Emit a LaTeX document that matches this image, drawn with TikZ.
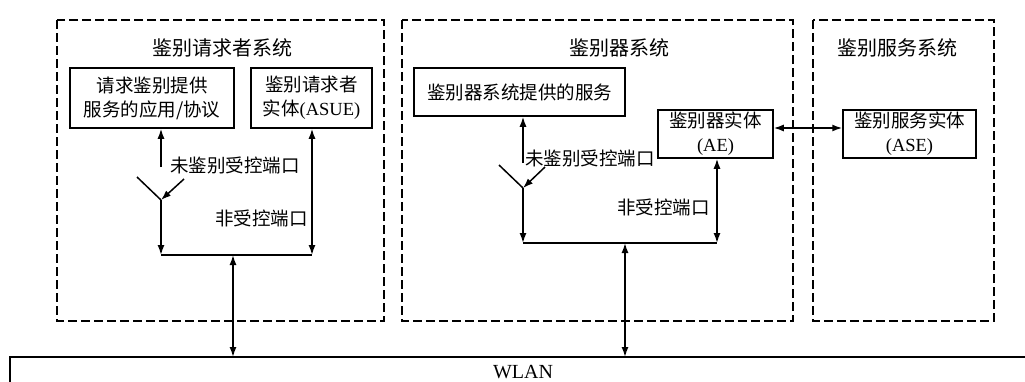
\documentclass[tikz,border=0pt]{standalone}
\usepackage{fontspec}
\setmainfont{Liberation Serif}
\newfontfamily\cjk{Noto Sans CJK SC}
\usetikzlibrary{arrows.meta}

\tikzset{
    sysbox/.style={draw, line width=2.8pt, dash pattern=on 9pt off 4pt},
    entity/.style={draw, line width=1.5pt, inner sep=0pt, align=center,
        font=\fontsize{18.5}{24}\selectfont\cjk},
    systitle/.style={font=\fontsize{20}{24}\selectfont\cjk},
    portlabel/.style={inner sep=0pt, font=\fontsize{18.5}{24}\selectfont\cjk},
    link/.style={line width=1.5pt, -{Latex[length=10pt,width=7pt]}},
    dlink/.style={line width=1.5pt, {Latex[length=10pt,width=7pt]}-{Latex[length=10pt,width=7pt]}},
}

\begin{document}
\begin{tikzpicture}[x=1pt, y=-1pt]
    \useasboundingbox (0,0) rectangle (1025,381);

    % the three systems
    \draw[sysbox] (57,20) rectangle (384,321);
    \draw[sysbox] (402,20) rectangle (793,321);
    \draw[sysbox] (813,20) rectangle (994,321);

    \node[systitle] (supp) at (222,48) {鉴别请求者系统};
    \node[systitle] (auth) at (619,48) {鉴别器系统};
    \node[systitle] (serv) at (897,48) {鉴别服务系统};

    % WLAN (runs off the page on the right and bottom)
    \draw[line width=1.7pt] (10,400) -- (10,357) -- (1040,357);
    \node[font=\fontsize{20}{24}\selectfont] (wlan) at (523,372) {WLAN};
    \coordinate (wlantop) at (523,357);

    % --- supplicant side ---
    \node[entity, minimum width=164pt, minimum height=60pt] (app) at (152,98)
        {请求鉴别提供\\服务的应用/协议};
    \node[entity, minimum width=121pt, minimum height=60pt] (asue) at (311.5,98)
        {鉴别请求者\\实体{\rmfamily(ASUE)}};

    \coordinate (s1up) at (161,167);
    \coordinate (s1open) at (137,177);
    \coordinate (s1pivot) at (161,200);
    \coordinate (s1lab) at (184,179);
    \coordinate (bus1l) at (161,255);
    \coordinate (bus1r) at (312,255);
    \coordinate (bus1m) at (233,255);

    \node[portlabel, anchor=west] (ctl1) at (170,165) {未鉴别受控端口};
    \node[portlabel, anchor=east] (unc1) at (308,218) {非受控端口};

    \draw[link] (s1up) -- (s1up |- app.south);
    \draw[line width=1.5pt] (s1open) -- (s1pivot);
    \draw[link] (s1lab) -- (s1pivot);
    \draw[link] (s1pivot) -- (bus1l);
    \draw[line width=1.5pt] (bus1l) -- (bus1r);
    \draw[dlink] (bus1r |- asue.south) -- (bus1r);
    \draw[dlink] (bus1m) -- (bus1m |- wlantop);

    % --- authenticator side ---
    \node[entity, minimum width=211pt, minimum height=48pt] (svc) at (519.5,92)
        {鉴别器系统提供的服务};
    \node[entity, minimum width=115pt, minimum height=48pt] (ae) at (715.5,134)
        {鉴别器实体\\{\rmfamily(AE)}};

    \coordinate (s2up) at (523,163);
    \coordinate (s2open) at (499,165);
    \coordinate (s2pivot) at (523,188);
    \coordinate (s2lab) at (545,167);
    \coordinate (bus2l) at (523,243);
    \coordinate (bus2r) at (717,243);
    \coordinate (bus2m) at (625,243);

    \node[portlabel, anchor=west] (ctl2) at (525,158) {未鉴别受控端口};
    \node[portlabel, anchor=east] (unc2) at (710,207) {非受控端口};

    \draw[link] (s2up) -- (s2up |- svc.south);
    \draw[line width=1.5pt] (s2open) -- (s2pivot);
    \draw[link] (s2lab) -- (s2pivot);
    \draw[link] (s2pivot) -- (bus2l);
    \draw[line width=1.5pt] (bus2l) -- (bus2r);
    \draw[dlink] (bus2r |- ae.south) -- (bus2r);
    \draw[dlink] (bus2m) -- (bus2m |- wlantop);

    % --- authentication server ---
    \node[entity, minimum width=133pt, minimum height=48pt] (ase) at (909.5,134)
        {鉴别服务实体\\{\rmfamily(ASE)}};

    \draw[dlink] (ae.east |- 0,128) -- (ase.west |- 0,128);

\end{tikzpicture}
\end{document}
